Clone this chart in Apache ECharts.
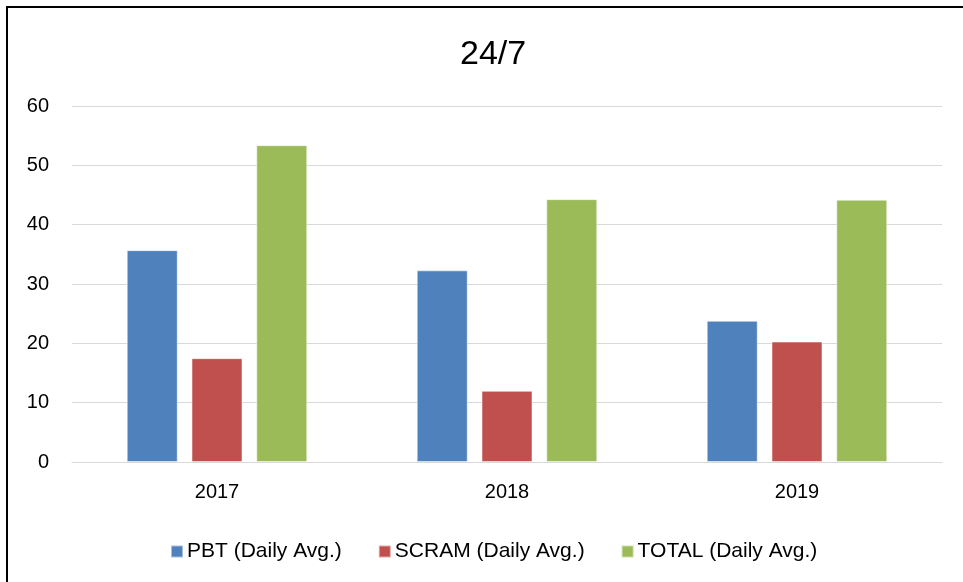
<!DOCTYPE html>
<html>
<head>
<meta charset="utf-8">
<script src="https://cdn.jsdelivr.net/npm/echarts@6/dist/echarts.min.js"></script>
<style>
  html, body { margin: 0; padding: 0; background: #fff; }
  #main { width: 963px; height: 582px; }
</style>
</head>
<body>
<div id="main"></div>
<script>
// values
const years = ['2017', '2018', '2019']
const pbt = [35.7, 32.3, 23.8]
const scram = [17.5, 12.0, 20.3]
const total = [53.4, 44.3, 44.2]
const seriesNames = ['PBT (Daily Avg.)', 'SCRAM (Daily Avg.)', 'TOTAL (Daily Avg.)']
const colors = ['#4f81bd', '#c0504d', '#9bbb59']

const font = 'Liberation Sans, Arial, sans-serif'

const chart = echarts.init(document.getElementById('main'))

function barSeries (name, data, color) {
  return {
    name: name,
    type: 'bar',
    data: data,
    barWidth: 51,
    barGap: '27%',
    itemStyle: { color: color, borderColor: 'rgba(255,255,255,0.5)', borderWidth: 1 }
  }
}

const option = {
  animation: false,
  color: colors,
  title: {
    text: '24/7',
    left: 455,
    top: 33,
    textStyle: { fontFamily: font, fontSize: 34, fontWeight: 'normal', color: '#000' }
  },
  // chart frame (cut off at right and bottom like the original)
  graphic: [{
    type: 'rect',
    shape: { x: 7, y: 7, width: 1000, height: 1000 },
    style: { fill: 'none', stroke: '#000', lineWidth: 2 },
    silent: true
  }],
  legend: {
    left: 165,
    top: 536,
    itemWidth: 12,
    itemHeight: 12,
    itemGap: 36,
    icon: 'rect',
    textStyle: { fontFamily: font, fontSize: 21, color: '#000', padding: [0, 0, 0, -1] },
    data: seriesNames
  },
  grid: { left: 72, right: 21, top: 106, bottom: 120, containLabel: false },
  xAxis: {
    type: 'category',
    data: years,
    axisTick: { show: false },
    axisLine: { lineStyle: { color: '#d9d9d9', width: 1 } },
    axisLabel: { margin: 20, fontFamily: font, fontSize: 20, color: '#000' }
  },
  yAxis: {
    type: 'value',
    min: 0,
    max: 60,
    interval: 10,
    axisLine: { show: false },
    axisTick: { show: false },
    splitLine: { lineStyle: { color: '#d9d9d9', width: 1 } },
    axisLabel: { margin: 23, fontFamily: font, fontSize: 20, color: '#000' }
  },
  series: [
    barSeries(seriesNames[0], pbt, colors[0]),
    barSeries(seriesNames[1], scram, colors[1]),
    barSeries(seriesNames[2], total, colors[2])
  ]
}

chart.setOption(option)
window.addEventListener('resize', () => chart.resize())
</script>
</body>
</html>
